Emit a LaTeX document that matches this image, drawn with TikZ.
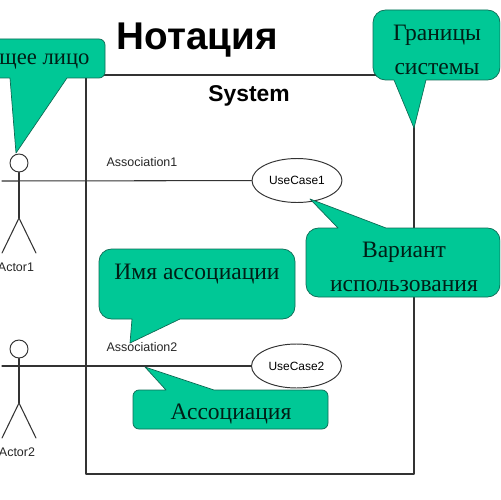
\documentclass[tikz,border=0pt]{standalone}
\usepackage{fontspec}
\setmainfont{Liberation Serif}
\setsansfont{Liberation Sans}
\usetikzlibrary{shapes.geometric}
\definecolor{vert}{HTML}{00C896}
\definecolor{bord}{HTML}{0F6B55}
\definecolor{trait}{HTML}{333333}
\tikzset{
	bulle/.style={draw=bord,fill=vert,line width=0.4pt,line join=round},
	bulletexte/.style={font=\fontsize{13.4}{16}\selectfont,text=black!85!vert,inner sep=0pt},
	cas/.style={ellipse,draw=trait,fill=white,line width=0.55pt,minimum width=1.8cm,minimum height=0.88cm,inner sep=0pt,font=\sffamily\fontsize{6.8}{8}\selectfont},
	petit/.style={font=\sffamily\fontsize{7.1}{9}\selectfont,text=black!85,inner sep=0pt},
}
\begin{document}
\begin{tikzpicture}[line cap=round,line join=round,x=0.02cm,y=-0.02cm]
			\useasboundingbox (0,0) rectangle (500,500);
			\clip (0,0) rectangle (500,500);
			% Titre
			\node[font=\sffamily\bfseries\fontsize{22}{26}\selectfont,inner sep=0pt] (titre) at (197,40) {Нотация};
			\node[font=\sffamily\bfseries\fontsize{13}{16}\selectfont,inner sep=0pt] (systeme) at (249,96) {System};
			% Cadre
			\draw[color=trait,line width=0.6pt] (86,75) rectangle (414,474);
			% Cas
			\node[cas] (cas1) at (297,180.5) {UseCase1};
			\node[cas] (cas2) at (296.5,366) {UseCase2};
			% Acteur 1
			\node[draw=trait,circle,fill=white,minimum size=0.36cm,inner sep=0pt,line width=0.55pt] (tete1) at (19,163) {};
			\coordinate (bras1) at (2,181);
			\coordinate (bassin1) at (19,218);
			\coordinate (piedg1) at (2,253);
			\coordinate (piedd1) at (36,253);
			\draw[color=trait,line width=0.6pt] (tete1)--(bassin1);
			\draw[color=trait,line width=0.6pt] (piedg1)--(bassin1)--(piedd1);
			\draw[color=trait,line width=0.6pt] (bras1)--(cas1);
			\node[petit] (acteur1) at (16,267) {Actor1};
			\node[petit] (asso1) at (142,162.5) {Association1};
			% Acteur 2
			\node[draw=trait,circle,fill=white,minimum size=0.36cm,inner sep=0pt,line width=0.55pt] (tete2) at (19,349) {};
			\coordinate (bras2) at (2,366);
			\coordinate (bassin2) at (19,403);
			\coordinate (piedg2) at (2,438);
			\coordinate (piedd2) at (36,438);
			\draw[color=trait,line width=0.6pt] (tete2)--(bassin2);
			\draw[color=trait,line width=0.6pt] (piedg2)--(bassin2)--(piedd2);
			\draw[color=trait,line width=0.6pt] (bras2)--(cas2);
			\node[petit] (acteur2) at (17,452.5) {Actor2};
			\node[petit] (asso2) at (142,347.5) {Association2};
			% Bulles
			\draw[bulle] (10,78)--(16,153)--(67,78) [rounded corners=0.12cm] --(105,78)--(105,39)--(-12,39)--(-12,78) [sharp corners] --cycle;
			\node[bulletexte,font=\fontsize{12.9}{16}\selectfont] (bulle1) at (44.5,62) {щее лицо};
			\draw[bulle] (394,80)--(414,128)--(426,80) [rounded corners=0.25cm] --(500,80)--(500,10)--(373,10)--(373,80) [sharp corners] --cycle;
			\node[bulletexte,align=center] (bulle2) at (437,50) {Границы\\[3pt]системы};
			\draw[bulle] (338,228)--(310,199)--(386,228) [rounded corners=0.25cm] --(500,228)--(500,297)--(306,297)--(306,228) [sharp corners] --cycle;
			\node[bulletexte,align=center] (bulle3) at (404,267) {Вариант\\[3pt]использования};
			\draw[bulle] (132,319)--(130,343)--(180,319) [rounded corners=0.25cm] --(295,319)--(295,249)--(99,249)--(99,319) [sharp corners] --cycle;
			\node[bulletexte] (bulle4) at (197,274) {Имя ассоциации};
			\draw[bulle] (166,390)--(145,367)--(214,390) [rounded corners=0.12cm] --(328,390)--(328,429)--(133,429)--(133,390) [sharp corners] --cycle;
			\node[bulletexte] (bulle5) at (231,414) {Ассоциация};
	\end{tikzpicture}
\end{document}
